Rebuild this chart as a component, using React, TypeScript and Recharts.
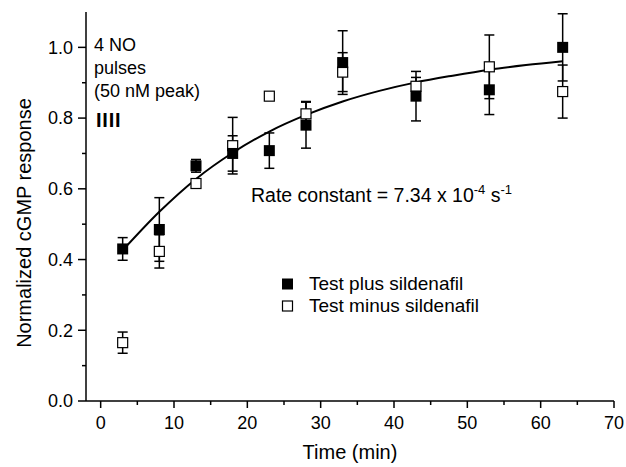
import React from "react";
import { ComposedChart, Scatter, Line, XAxis, YAxis, ErrorBar, Legend } from "recharts";

// sampling times (min)
const times = [3, 8, 13, 18, 23, 28, 33, 43, 53, 63];
const plusValues = [0.43, 0.485, 0.665, 0.7, 0.708, 0.78, 0.957, 0.862, 0.88, 1.0];
const plusErrors = [0.032, 0.09, 0.018, 0.05, 0.05, 0.065, 0.09, 0.07, 0.07, 0.095];
const minusValues = [0.165, 0.423, 0.615, 0.722, 0.862, 0.812, 0.93, 0.89, 0.945, 0.875];
const minusErrors = [0.03, 0.047, 0.012, 0.08, 0.008, 0.035, 0.055, 0.025, 0.09, 0.075];

// fitted curve
const fitTimes = [3, 8, 13, 18, 23, 28, 33, 38, 43, 48, 53, 58, 63];
const fitValues = [0.426, 0.535, 0.628, 0.702, 0.762, 0.809, 0.847, 0.877, 0.901, 0.92, 0.937, 0.95, 0.961];

const xTicks = [0, 5, 10, 15, 20, 25, 30, 35, 40, 45, 50, 55, 60, 65, 70];
const yTicks = [0, 0.1, 0.2, 0.3, 0.4, 0.5, 0.6, 0.7, 0.8, 0.9, 1.0];

const plusData = times.map((t, i) => ({ t, v: plusValues[i], e: plusErrors[i] }));
const minusData = times.map((t, i) => ({ t, v: minusValues[i], e: minusErrors[i] }));
const fitData = fitTimes.map((t, i) => ({ t, v: fitValues[i] }));

const FONT = "Arial, 'Liberation Sans', sans-serif";

const FilledSquare = (p: any) => (
  <rect x={p.cx - 5.5} y={p.cy - 5.5} width={11} height={11} fill="#000" />
);
const OpenSquare = (p: any) => (
  <rect x={p.cx - 5} y={p.cy - 5} width={10} height={10} fill="#fff" stroke="#000" strokeWidth={1.2} />
);

const XTick = ({ x, y, payload }: any) => {
  const major = payload.value % 10 === 0;
  return (
    <g>
      <line x1={x} x2={x} y1={y} y2={y + (major ? 7 : 4)} stroke="#000" strokeWidth={1.5} />
      {major && (
        <text x={x} y={y + 28} textAnchor="middle" fontSize={18} fontFamily={FONT} fill="#000">
          {payload.value}
        </text>
      )}
    </g>
  );
};

const YTick = ({ x, y, payload }: any) => {
  const major = Math.round(payload.value * 10) % 2 === 0;
  return (
    <g>
      <line x1={x - (major ? 8 : 4)} x2={x} y1={y} y2={y} stroke="#000" strokeWidth={1.5} />
      {major && (
        <text x={x - 13} y={y} dy="0.35em" textAnchor="end" fontSize={18} fontFamily={FONT} fill="#000">
          {payload.value.toFixed(1)}
        </text>
      )}
    </g>
  );
};

const LegendBox = () => (
  <div style={{ fontFamily: FONT, fontSize: 19, color: "#000", lineHeight: "22px" }}>
    {[
      { label: "Test plus sildenafil", filled: true },
      { label: "Test minus sildenafil", filled: false },
    ].map((r) => (
      <div key={r.label} style={{ display: "flex", alignItems: "center" }}>
        <svg width={33} height={22}>
          {r.filled ? (
            <rect x={6} y={5.5} width={11} height={11} fill="#000" />
          ) : (
            <rect x={6.5} y={6} width={10} height={10} fill="#fff" stroke="#000" strokeWidth={1.2} />
          )}
        </svg>
        <span>{r.label}</span>
      </div>
    ))}
  </div>
);

export default function App() {
  return (
    <div style={{ position: "absolute", left: 0, top: 0, width: 626, height: 467, background: "#fff" }}>
      <ComposedChart width={626} height={467} margin={{ top: 12, right: 12, bottom: 0, left: 0 }}>
        <XAxis
          type="number"
          dataKey="t"
          domain={[-2, 70]}
          ticks={xTicks}
          interval={0}
          height={66}
          tickSize={0}
          tickMargin={0}
          tickLine={false}
          tick={XTick}
          axisLine={{ stroke: "#000", strokeWidth: 1.5 }}
          allowDataOverflow
        />
        <YAxis
          type="number"
          dataKey="v"
          domain={[0, 1.1]}
          ticks={yTicks}
          interval={0}
          width={86}
          tickSize={0}
          tickMargin={0}
          tickLine={false}
          tick={YTick}
          axisLine={{ stroke: "#000", strokeWidth: 1.5 }}
          allowDataOverflow
        />
        <Legend
          layout="vertical"
          align="center"
          verticalAlign="middle"
          content={LegendBox}
          wrapperStyle={{ left: 276, top: 273, width: "auto" }}
        />
        <Scatter name="Test minus sildenafil" data={minusData} dataKey="v" shape={OpenSquare} isAnimationActive={false}>
          <ErrorBar dataKey="e" direction="y" width={5} stroke="#000" strokeWidth={1.5} />
        </Scatter>
        <Scatter name="Test plus sildenafil" data={plusData} dataKey="v" shape={FilledSquare} isAnimationActive={false}>
          <ErrorBar dataKey="e" direction="y" width={5} stroke="#000" strokeWidth={1.5} />
        </Scatter>
        <Line
          data={fitData}
          dataKey="v"
          type="monotone"
          dot={false}
          stroke="#000"
          strokeWidth={2}
          isAnimationActive={false}
          legendType="none"
        />
      </ComposedChart>
      <svg
        width={626}
        height={467}
        style={{ position: "absolute", left: 0, top: 0, pointerEvents: "none" }}
        fontFamily={FONT}
        fill="#000"
      >
        <text x={94} y={51} fontSize={18}>4 NO</text>
        <text x={94} y={74} fontSize={18}>pulses</text>
        <text x={94} y={97} fontSize={18}>(50 nM peak)</text>
        <text x={96} y={127} fontSize={20} fontWeight="bold" letterSpacing={0.8}>IIII</text>
        <text x={251} y={202} fontSize={19.5}>
          Rate constant = 7.34 x 10
          <tspan dy={-8} fontSize={13}>-4</tspan>
          <tspan dy={8}> s</tspan>
          <tspan dy={-8} fontSize={13}>-1</tspan>
        </text>
        <text x={31} y={223} fontSize={20} textAnchor="middle" transform="rotate(-90 31 223)">
          Normalized cGMP response
        </text>
        <text x={350} y={459} fontSize={20} textAnchor="middle">Time (min)</text>
      </svg>
    </div>
  );
}
